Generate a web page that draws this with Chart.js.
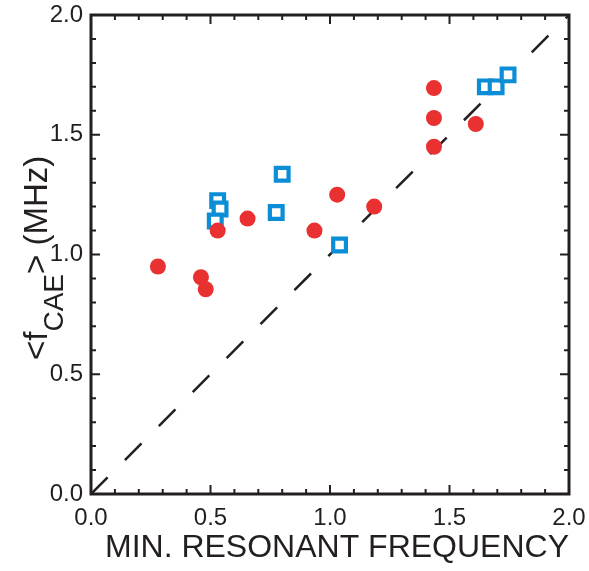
<!DOCTYPE html>
<html>
<head>
<meta charset="utf-8">
<script src="https://cdn.jsdelivr.net/npm/chart.js@4.4.1/dist/chart.umd.min.js"></script>
<style>
  html, body { margin: 0; padding: 0; background: #fff; }
  #wrap { width: 589px; height: 571px; }
</style>
</head>
<body>
<div id="wrap"><canvas id="chart" width="589" height="571"></canvas></div>
<script>
// values
const redX  = [0.28, 0.46, 0.48, 0.53, 0.655, 0.935, 1.03, 1.185, 1.435, 1.435, 1.435, 1.61];
const redY  = [0.95, 0.905, 0.855, 1.10, 1.15, 1.10, 1.25, 1.20, 1.695, 1.57, 1.45, 1.545];
const blueX = [0.53, 0.54, 0.52, 0.80, 0.775, 1.04, 1.65, 1.695, 1.745];
const blueY = [1.225, 1.19, 1.14, 1.335, 1.175, 1.04, 1.70, 1.70, 1.75];
const diagX = [0, 2];
const diagY = [0, 2];
const axisMin = 0, axisMax = 2, majorStep = 0.5, minorStep = 0.1;

const FONT = '"Liberation Sans", Arial, Helvetica, sans-serif';
const INK = '#231f20';

function pts(xs, ys) {
    return xs.map((x, i) => ({ x: x, y: ys[i] }));
}

// inward ticks on all four sides plus the frame
const frameTicks = {
    id: 'frameTicks',
    afterDraw(chart) {
        const ctx = chart.ctx;
        const a = chart.chartArea;
        const xs = chart.scales.x, ys = chart.scales.y;
        ctx.save();
        ctx.strokeStyle = INK;
        ctx.lineWidth = 2;
        const n = Math.round((axisMax - axisMin) / minorStep);
        for (let i = 0; i <= n; i++) {
            const v = axisMin + i * minorStep;
            const major = Math.abs(v / majorStep - Math.round(v / majorStep)) < 1e-6;
            const len = major ? 9 : 5;
            const px = xs.getPixelForValue(v);
            const py = ys.getPixelForValue(v);
            ctx.beginPath();
            ctx.moveTo(px, a.bottom); ctx.lineTo(px, a.bottom - len);
            ctx.moveTo(px, a.top); ctx.lineTo(px, a.top + len);
            ctx.moveTo(a.left, py); ctx.lineTo(a.left + len, py);
            ctx.moveTo(a.right, py); ctx.lineTo(a.right - len, py);
            ctx.stroke();
        }
        ctx.lineWidth = 3;
        ctx.strokeRect(a.left, a.top, a.right - a.left, a.bottom - a.top);
        ctx.restore();
    }
};

// rotated y title with subscript: <f_CAE> (MHz)
const yTitle = {
    id: 'yTitle',
    afterDraw(chart) {
        const ctx = chart.ctx;
        const big = '33px ' + FONT, small = '28px ' + FONT;
        const parts = [
            { t: '<f', f: big, dy: 0 },
            { t: 'CAE', f: small, dy: 16 },
            { t: '> (MHz)', f: big, dy: 0 }
        ];
        ctx.save();
        ctx.translate(47, 360);
        ctx.rotate(-Math.PI / 2);
        ctx.fillStyle = INK;
        ctx.textBaseline = 'alphabetic';
        ctx.textAlign = 'left';
        let x = 0;
        parts.forEach(p => {
            ctx.font = p.f;
            ctx.fillText(p.t, x, p.dy);
            x += ctx.measureText(p.t).width;
        });
        ctx.restore();
    }
};

new Chart(document.getElementById('chart'), {
    type: 'scatter',
    data: {
        datasets: [
            {
                data: pts(redX, redY),
                pointStyle: 'circle',
                pointRadius: 8,
                pointBackgroundColor: '#e83130',
                pointBorderWidth: 0,
                borderColor: '#e83130'
            },
            {
                data: pts(blueX, blueY),
                pointStyle: 'rect',
                pointRadius: 9,
                pointBackgroundColor: '#ffffff',
                pointBorderColor: '#0b8ed6',
                pointBorderWidth: 4.2
            },
            {
                type: 'line',
                data: pts(diagX, diagY),
                borderColor: INK,
                borderWidth: 2.5,
                borderDash: [23.5, 24.5],
                pointRadius: 0,
                fill: false
            }
        ]
    },
    options: {
        responsive: false,
        animation: false,
        events: [],
        layout: { padding: { left: 0, right: 20, top: 15, bottom: 0 } },
        plugins: { legend: { display: false }, tooltip: { enabled: false } },
        scales: {
            x: {
                type: 'linear',
                min: axisMin, max: axisMax,
                grid: { display: false, drawTicks: false },
                border: { display: false },
                ticks: {
                    stepSize: majorStep,
                    padding: 10,
                    color: INK,
                    font: { family: FONT, size: 24 },
                    maxRotation: 0,
                    callback: v => v.toFixed(1)
                },
                title: {
                    display: true,
                    text: 'MIN. RESONANT FREQUENCY',
                    align: 'end',
                    color: INK,
                    font: { family: FONT, size: 32 },
                    padding: { top: 0, bottom: 4 }
                },
                afterFit: s => { s.height = 77; s.paddingLeft = 0; s.paddingRight = 0; }
            },
            y: {
                type: 'linear',
                min: axisMin, max: axisMax,
                grid: { display: false, drawTicks: false },
                border: { display: false },
                ticks: {
                    stepSize: majorStep,
                    padding: 8,
                    color: INK,
                    font: { family: FONT, size: 24 },
                    callback: v => v.toFixed(1)
                },
                afterFit: s => { s.width = 91; s.paddingTop = 0; s.paddingBottom = 0; }
            }
        }
    },
    plugins: [frameTicks, yTitle]
});
</script>
</body>
</html>
